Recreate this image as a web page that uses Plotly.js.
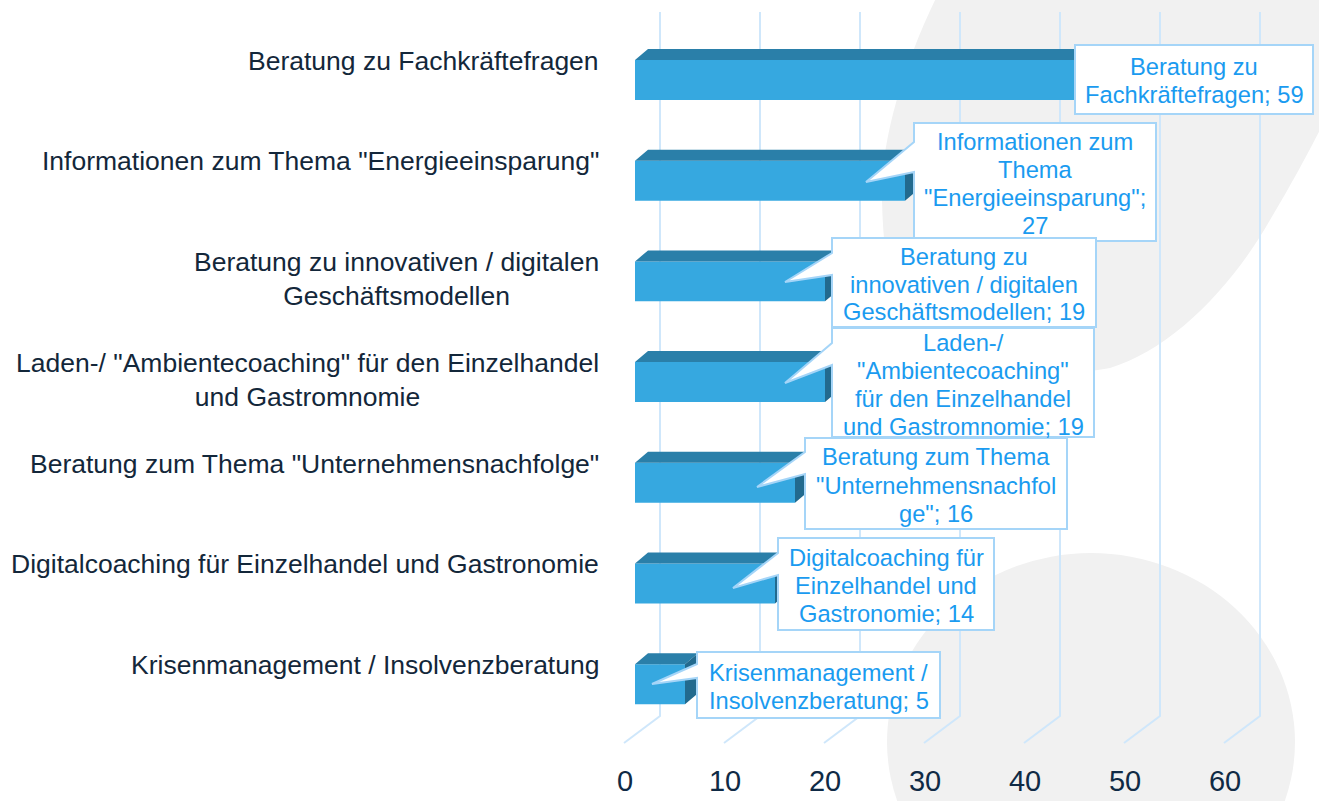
<!DOCTYPE html>
<html><head><meta charset="utf-8">
<script src="https://cdn.plot.ly/plotly-3.0.1.min.js"></script>
<style>html,body{margin:0;padding:0;background:#fff}#chart{width:1319px;height:801px}</style>
</head><body><div id="chart"></div>
<script>
// ---------- data ----------
const categories = [
  'Beratung zu Fachkräftefragen',
  'Informationen zum Thema "Energieeinsparung"',
  'Beratung zu innovativen / digitalen<br>Geschäftsmodellen',
  'Laden-/ "Ambientecoaching" für den Einzelhandel<br>und Gastromnomie',
  'Beratung zum Thema "Unternehmensnachfolge"',
  'Digitalcoaching für Einzelhandel und Gastronomie',
  'Krisenmanagement / Insolvenzberatung'
];
const values = [59, 27, 19, 19, 16, 14, 5];
const calloutLabels = [
  'Beratung zu<br>Fachkräftefragen; {v}',
  'Informationen zum<br>Thema<br>"Energieeinsparung";<br>{v}',
  'Beratung zu<br>innovativen / digitalen<br>Geschäftsmodellen; {v}',
  'Laden-/<br>"Ambientecoaching"<br>für den Einzelhandel<br>und Gastromnomie; {v}',
  'Beratung zum Thema<br>"Unternehmensnachfol<br>ge"; {v}',
  'Digitalcoaching für<br>Einzelhandel und<br>Gastronomie; {v}',
  'Krisenmanagement /<br>Insolvenzberatung; {v}'
];
const tickValues = [0, 10, 20, 30, 40, 50, 60];
const tickLabels = ['0', '10', '20', '30', '40', '50', '60'];

// ---------- layout constants ----------
const W = 1319, H = 801;
const FONT = '"Liberation Sans", Arial, Helvetica, sans-serif';
const X_RANGE = [-63.5, 68.4];      // bar axis
const X_TICK_RANGE = [-62.5, 69.4]; // tick / grid axis
const Y_RANGE = [7.160, -0.794];
const BAR_H = 0.397, DX = 1.3, DY = 0.109;
const GRID_BACK = 3.5, GRID_FRONT = -0.1;
const GRID_TOP = -0.675, GRID_BEND = 6.316, GRID_END = 6.584;
const GRID_COLOR = '#cfe7fb';
const FRONT = '#36a8e0', TOP = '#2a7fa9', SIDE = '#226a8e';
const LABEL_BLUE = '#1a9bf0', BORDER_BLUE = '#a5d5f8';
const idx = categories.map((_, i) => i);

// ---------- traces ----------
const gx = [], gy = [];
tickValues.forEach(v => {
  gx.push(v + GRID_BACK, v + GRID_BACK, v + GRID_FRONT, null);
  gy.push(GRID_TOP, GRID_BEND, GRID_END, null);
});
const grid = {type: 'scatter', mode: 'lines', x: gx, y: gy, xaxis: 'x', yaxis: 'y',
  line: {color: GRID_COLOR, width: 2}, hoverinfo: 'skip'};

const bars = {type: 'bar', orientation: 'h', x: values, y: idx, base: 0, width: BAR_H,
  xaxis: 'x2', yaxis: 'y2', marker: {color: FRONT, line: {width: 0}}, hoverinfo: 'skip'};

const tx = [], ty = [], sx = [], sy = [];
values.forEach((v, i) => {
  const t = i - BAR_H / 2, b = i + BAR_H / 2;
  tx.push(0, v, v + DX, DX, 0, null);
  ty.push(t, t, t - DY, t - DY, t, null);
  sx.push(v, v + DX, v + DX, v, v, null);
  sy.push(t, t - DY, b - DY, b, t, null);
});
const topFaces = {type: 'scatter', mode: 'lines', x: tx, y: ty, xaxis: 'x2', yaxis: 'y2',
  fill: 'toself', fillcolor: TOP, line: {width: 0, color: TOP}, hoverinfo: 'skip'};
const sideFaces = {type: 'scatter', mode: 'lines', x: sx, y: sy, xaxis: 'x2', yaxis: 'y2',
  fill: 'toself', fillcolor: SIDE, line: {width: 0, color: SIDE}, hoverinfo: 'skip'};

// ---------- shapes ----------
function pxPath(p) {
  return p.replace(/(-?\d+(?:\.\d+)?),(-?\d+(?:\.\d+)?)/g,
    (m, a, b) => (parseFloat(a) / W).toFixed(5) + ',' + (1 - parseFloat(b) / H).toFixed(5));
}
const shapes = [
  {type: 'path', xref: 'paper', yref: 'paper', layer: 'below', fillcolor: '#f1f1f1', line: {width: 0},
   path: pxPath('M940,-10 C905,60 880,140 882,200 C884,290 900,340 960,362 C1010,378 1080,374 1110,368 C1170,350 1230,290 1270,220 C1300,170 1320,130 1330,110 L1330,-10 Z')},
  {type: 'circle', xref: 'paper', yref: 'paper', layer: 'below', fillcolor: '#f1f1f1', line: {width: 0},
   x0: 887 / W, x1: 1295 / W, y0: 1 - 931 / H, y1: 1 - 553 / H}
];

const calloutBoxes = [
  {x0: 1075, y0: 45, x1: 1313, y1: 114},
  {x0: 914, y0: 123, x1: 1156, y1: 241, tail: [142, 172, 866, 182]},
  {x0: 832, y0: 238, x1: 1096, y1: 327, tail: [253, 275, 785, 282]},
  {x0: 832, y0: 328, x1: 1094, y1: 437, tail: [343, 365, 785, 383]},
  {x0: 805, y0: 438, x1: 1067, y1: 529, tail: [452, 474, 757, 487]},
  {x0: 778, y0: 538, x1: 994, y1: 630, tail: [553, 575, 733, 588]},
  {x0: 697, y0: 652, x1: 940, y1: 718, tail: [664, 678, 652, 684]}
];
const annotations = [];
calloutBoxes.forEach((b, i) => {
  let p = `M${b.x0},${b.y0} L${b.x1},${b.y0} L${b.x1},${b.y1} L${b.x0},${b.y1}`;
  if (b.tail) {
    const [tt, tb, tipx, tipy] = b.tail;
    p += ` L${b.x0},${tb} L${tipx},${tipy} L${b.x0},${tt}`;
  }
  p += ' Z';
  shapes.push({type: 'path', xref: 'paper', yref: 'paper', layer: 'above', path: pxPath(p),
    fillcolor: '#ffffff', line: {color: BORDER_BLUE, width: 2}});
  const lines = calloutLabels[i].replace('{v}', values[i]).split('<br>');
  const cx = (b.x0 + b.x1) / 2, cy = (b.y0 + b.y1) / 2 + 2;
  lines.forEach((ln, k) => {
    const y = cy + (k - (lines.length - 1) / 2) * 28;
    annotations.push({xref: 'paper', yref: 'paper', x: cx / W, y: 1 - y / H, text: ln,
      showarrow: false, xanchor: 'center', yanchor: 'middle',
      font: {family: FONT, size: 23.7, color: LABEL_BLUE}});
  });
});
categories.forEach((c, i) => {
  annotations.push({xref: 'x2', yref: 'y2', x: -3.4, y: i - 0.36, text: c, showarrow: false,
    xanchor: 'right', yanchor: 'top', align: 'center',
    font: {family: FONT, size: 26.5, color: '#13273a'}});
});

const layout = {
  width: W, height: H, margin: {l: 0, r: 0, t: 0, b: 0, pad: 0},
  paper_bgcolor: '#ffffff', plot_bgcolor: 'rgba(0,0,0,0)', showlegend: false,
  xaxis: {range: X_TICK_RANGE, domain: [0, 1], anchor: 'free', position: 0.05,
    tickvals: tickValues, ticktext: tickLabels, showgrid: false, zeroline: false, showline: false,
    ticks: '', tickfont: {family: FONT, size: 29, color: '#0f2a45'}, fixedrange: true},
  yaxis: {range: Y_RANGE, domain: [0, 1], anchor: 'x', visible: false, fixedrange: true},
  xaxis2: {range: X_RANGE, domain: [0, 1], anchor: 'y2', visible: false, fixedrange: true},
  yaxis2: {range: Y_RANGE, domain: [0, 1], anchor: 'x2', visible: false, fixedrange: true},
  shapes: shapes, annotations: annotations
};

Plotly.newPlot('chart', [grid, bars, topFaces, sideFaces], layout, {staticPlot: true, displayModeBar: false});
</script></body></html>
